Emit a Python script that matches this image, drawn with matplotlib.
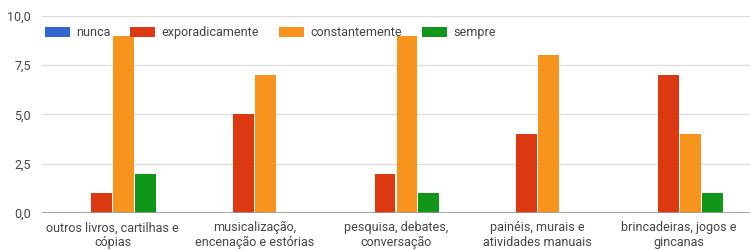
import matplotlib.pyplot as plt
import numpy as np

categories = ['outros livros, cartilhas e\ncópias', 'musicalização,\nencenação e estórias',
              'pesquisa, debates,\nconversação', 'painéis, murais e\natividades manuais',
              'brincadeiras, jogos e\ngincanas']
series = ['nunca', 'exporadicamente', 'constantemente', 'sempre']
nunca = [0, 0, 0, 0, 0]
exporadicamente = [1, 5, 2, 4, 7]
constantemente = [9, 7, 9, 8, 4]
sempre = [2, 0, 1, 0, 1]
yticks = [0, 2.5, 5, 7.5, 10]
ytick_labels = ['0,0', '2,5', '5,0', '7,5', '10,0']

colors = ['#3366cc', '#dc3912', '#f7941d', '#109618']

plt.rcParams['font.family'] = ['Roboto', 'DejaVu Sans']

fig = plt.figure(figsize=(7.5, 2.5), dpi=100)
ax = fig.add_axes([0.056, 0.148, 0.944, 0.788])

x = np.arange(len(categories))
w = 0.155
data = [nunca, exporadicamente, constantemente, sempre]
for i, (name, vals) in enumerate(zip(series, data)):
    ax.bar(x + (i - 1.5) * w, vals, w * 0.95, color=colors[i], label=name, zorder=3)

ax.set_xlim(-0.5, len(categories) - 0.5)
ax.set_ylim(0, 10)
ax.set_yticks(yticks)
ax.set_yticklabels(ytick_labels)
ax.set_xticks(x)
ax.set_xticklabels(categories, linespacing=1.15)
ax.grid(axis='y', color='#dddddd', lw=1, zorder=0)
ax.axhline(0, color='#999999', lw=1.2, zorder=4)
for s in ax.spines.values():
    s.set_visible(False)
ax.tick_params(length=0, labelsize=9, colors='#444444')
ax.tick_params(axis='x', pad=6)
ax.tick_params(axis='y', pad=8)

ax.legend(loc='upper left', bbox_to_anchor=(-0.007, 0.985), ncol=4, frameon=False,
          fontsize=9, labelcolor='#444444', handlelength=2.0, handleheight=0.8,
          columnspacing=1.6, handletextpad=0.5, borderaxespad=0.2)

fig.savefig('out.png')
